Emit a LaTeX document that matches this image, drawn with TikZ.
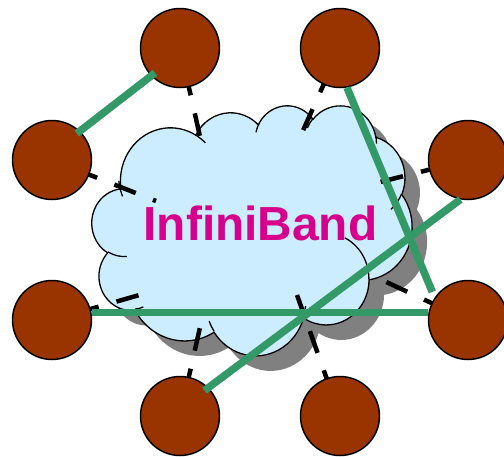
\documentclass[tikz,border=0pt]{standalone}
\usepackage{fontspec}
\setmainfont{Liberation Sans}
\definecolor{nodebrown}{HTML}{993300}
\definecolor{linkgreen}{HTML}{339966}
\definecolor{cloudblue}{HTML}{CCECFF}
\definecolor{shadowgray}{HTML}{808080}
\definecolor{ibmagenta}{RGB}{214,0,140}
% visual (DrawingML) angle -> parametric angle of an ellipse
\newcommand\cloudpt[3]{%
  \pgfmathsetmacro\cptmp{atan2((#1)*sin(#3),(#2)*cos(#3))}%
  \pgfmathsetmacro\cpres{\cptmp+360*round(((#3)-\cptmp)/360)}}
\newcommand\mkarc[6]{%
  \cloudpt{#3}{#4}{#5}\let#1\cpres
  \cloudpt{#3}{#4}{(#5)+(#6)}\let#2\cpres}
\newcommand\cloudpath{(39.00,143.70)
  arc[start angle=\ArcSa, end angle=\ArcEa, x radius=67.53, y radius=91.90]
  arc[start angle=\ArcSb, end angle=\ArcEb, x radius=53.33, y radius=72.67]
  arc[start angle=\ArcSc, end angle=\ArcEc, x radius=43.65, y radius=59.45]
  arc[start angle=\ArcSd, end angle=\ArcEd, x radius=48.57, y radius=65.95]
  arc[start angle=\ArcSe, end angle=\ArcEe, x radius=53.33, y radius=72.73]
  arc[start angle=\ArcSf, end angle=\ArcEf, x radius=67.75, y radius=92.20]
  arc[start angle=\ArcSg, end angle=\ArcEg, x radius=57.85, y radius=78.67]
  arc[start angle=\ArcSh, end angle=\ArcEh, x radius=67.52, y radius=92.15]
  arc[start angle=\ArcSi, end angle=\ArcEi, x radius=77.20, y radius=105.43]
  arc[start angle=\ArcSj, end angle=\ArcEj, x radius=43.60, y radius=59.18]
  arc[start angle=\ArcSk, end angle=\ArcEk, x radius=43.45, y radius=59.45]
  -- cycle}
\newcommand\cloudtails{%
  (46.93,261.77) arc[start angle=\TlSa, end angle=\TlEa, x radius=43.45, y radius=59.45]
  (69.28,348.99) arc[start angle=\TlSb, end angle=\TlEb, x radius=43.60, y radius=59.18]
  (164.78,390.90) arc[start angle=\TlSc, end angle=\TlEc, x radius=67.52, y radius=92.15]
  (288.27,347.51) arc[start angle=\TlSd, end angle=\TlEd, x radius=67.52, y radius=92.15]
  (341.29,229.54) arc[start angle=\TlSe, end angle=\TlEe, x radius=57.85, y radius=78.67]
  (417.98,153.54) arc[start angle=\TlSf, end angle=\TlEf, x radius=53.33, y radius=72.73]
  (383.24,54.26) arc[start angle=\TlSg, end angle=\TlEg, x radius=48.57, y radius=65.95]
  (290.78,39.52) arc[start angle=\TlSh, end angle=\TlEh, x radius=48.57, y radius=65.95]
  (221.41,47.20) arc[start angle=\TlSi, end angle=\TlEi, x radius=43.65, y radius=59.45]
  (140.00,51.92) arc[start angle=\TlSj, end angle=\TlEj, x radius=67.53, y radius=91.90]
  (41.27,157.89) arc[start angle=\TlSk, end angle=\TlEk, x radius=67.53, y radius=91.90]}
\tikzset{
  host/.style={circle, draw=black, line width=1.5pt, fill=nodebrown,
    minimum size=79pt, inner sep=0pt},
  greenlink/.style={draw=linkgreen, line width=7.5pt},
  linkdash/.style={draw=black, line width=4.5pt,
    dash pattern=on 23pt off 18.5pt, dash phase=16pt},
  cloudframe/.style={shift={(92,105)}, xscale=0.74074, yscale=0.5787},
}
\begin{document}
\begin{tikzpicture}[x=1pt, y=-1pt]
\mkarc\ArcSa\ArcEa{67.53}{91.90}{-190.4875}{123.7805}
\mkarc\ArcSb\ArcEb{53.33}{72.67}{-144.1024}{89.9452}
\mkarc\ArcSc\ArcEc{43.65}{59.45}{-145.8079}{99.7230}
\mkarc\ArcSd\ArcEd{48.57}{65.95}{-130.9861}{117.2417}
\mkarc\ArcSe\ArcEe{53.33}{72.73}{-78.7089}{109.0269}
\mkarc\ArcSf\ArcEf{67.75}{92.20}{-46.2673}{130.2690}
\mkarc\ArcSg\ArcEg{57.85}{78.67}{0.6250}{114.0333}
\mkarc\ArcSh\ArcEh{67.52}{92.15}{22.4516}{115.1726}
\mkarc\ArcSi\ArcEi{77.20}{105.43}{66.2426}{75.7110}
\mkarc\ArcSj\ArcEj{43.60}{59.18}{-274.9421}{146.7356}
\mkarc\ArcSk\ArcEk{43.45}{59.45}{-246.8285}{152.5189}
\mkarc\TlSa\TlEa{43.45}{59.45}{86.7420}{26.4295}
\mkarc\TlSb\TlEb{43.60}{59.18}{73.6105}{11.4475}
\mkarc\TlSc\TlEc{67.52}{92.15}{137.6242}{14.0811}
\mkarc\TlSd\TlEd{67.52}{92.15}{6.4533}{15.9984}
\mkarc\TlSe\TlEe{57.85}{78.67}{-70.2924}{70.9174}
\mkarc\TlSf\TlEf{53.33}{72.73}{30.3180}{27.7515}
\mkarc\TlSg\TlEg{48.57}{65.95}{-13.7443}{14.8589}
\mkarc\TlSh\TlEh{48.57}{65.95}{-149.1815}{18.1954}
\mkarc\TlSi\TlEi{43.65}{59.45}{-163.4943}{17.6864}
\mkarc\TlSj\TlEj{67.53}{91.90}{-66.7070}{12.3194}
\mkarc\TlSk\TlEk{67.53}{91.90}{150.0}{22.2255}
\useasboundingbox (0,0) rectangle (504,456);
% shadow and cloud
\begin{scope}[shift={(15,15)}, cloudframe]
  \fill[shadowgray] \cloudpath;
\end{scope}
\begin{scope}[cloudframe]
  \filldraw[fill=cloudblue, draw=black, line width=1.3pt] \cloudpath;
  \draw[black, line width=1.3pt] \cloudtails;
\end{scope}
\node[font=\bfseries\fontsize{47.8}{50}\selectfont, text=ibmagenta,
  anchor=base, inner sep=0pt] (ib) at (260.5,240) {InfiniBand};
% cloud ends of the dashed links
\coordinate (c1) at (201,141);
\coordinate (c2) at (301,135);
\coordinate (c3) at (156,201);
\coordinate (c4) at (376,183);
\coordinate (c5) at (143,294);
\coordinate (c6) at (382,280);
\coordinate (c7) at (201,323);
\coordinate (c8) at (297,295);
% hosts positions
\coordinate (ptl) at (180,48);
\coordinate (ptr) at (340,48);
\coordinate (plu) at (52,160);
\coordinate (pru) at (468,160);
\coordinate (pll) at (52,320);
\coordinate (prl) at (468,320);
\coordinate (pbl) at (180,416);
\coordinate (pbr) at (340,416);
\draw[linkdash] (ptl) -- (c1);
\draw[linkdash] (ptr) -- (c2);
\draw[linkdash] (plu) -- (c3);
\draw[linkdash] (pru) -- (c4);
\draw[linkdash] (pll) -- (c5);
\draw[linkdash] (prl) -- (c6);
\draw[linkdash] (pbl) -- (c7);
\draw[linkdash] (pbr) -- (c8);
\node[host] (tl) at (ptl) {};
\node[host] (tr) at (ptr) {};
\node[host] (lu) at (plu) {};
\node[host] (ru) at (pru) {};
\node[host] (ll) at (pll) {};
\node[host] (rl) at (prl) {};
\node[host] (bl) at (pbl) {};
\node[host] (br) at (pbr) {};
% green links
\draw[greenlink, shorten <=-5pt, shorten >=-4pt] (tl.224) -- (lu.46);
\draw[greenlink, shorten >=6pt] (tr.-80) -- (rl.146);
\draw[greenlink] (ll.11) -- (rl.169);
\draw[greenlink, shorten <=-5pt] (bl.45) -- (ru.259);
\end{tikzpicture}
\end{document}
